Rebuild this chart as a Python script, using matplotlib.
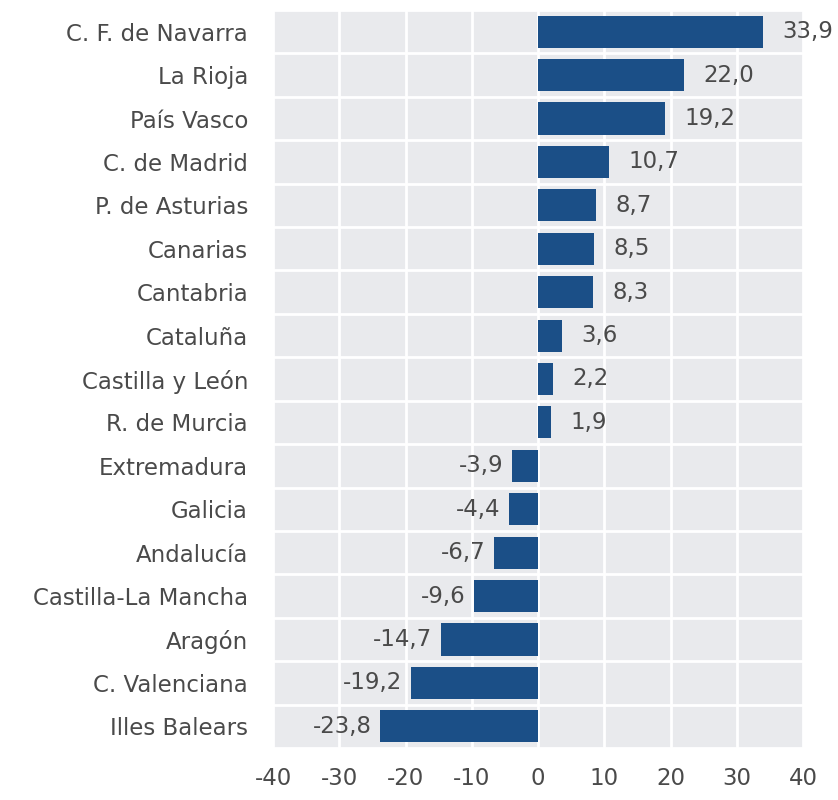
import matplotlib.pyplot as plt

regions = [
    "C. F. de Navarra", "La Rioja", "País Vasco", "C. de Madrid",
    "P. de Asturias", "Canarias", "Cantabria", "Cataluña",
    "Castilla y León", "R. de Murcia", "Extremadura", "Galicia",
    "Andalucía", "Castilla-La Mancha", "Aragón", "C. Valenciana",
    "Illes Balears",
]
values = [33.9, 22.0, 19.2, 10.7, 8.7, 8.5, 8.3, 3.6, 2.2, 1.9,
          -3.9, -4.4, -6.7, -9.6, -14.7, -19.2, -23.8]
xticks = [-40, -30, -20, -10, 0, 10, 20, 30, 40]

bar_color = "#1b4f87"
text_color = "#4a4a4a"
fsize = 16.5

fig = plt.figure(figsize=(8.38, 8.0), dpi=100)
ax = fig.add_axes([273 / 838, 1 - 748 / 800, 530 / 838, 738 / 800])
ax.set_facecolor("#e9eaed")

n = len(regions)
ypos = list(range(n))[::-1]
ax.barh(ypos, values, height=0.74, color=bar_color, zorder=3)

# white separators between rows and at every x tick
for b in range(n + 1):
    ax.axhline(b - 0.5, color="white", lw=2.0, zorder=2)
for t in xticks:
    ax.axvline(t, color="white", lw=2.0, zorder=2)

for y, v in zip(ypos, values):
    label = f"{v:.1f}".replace(".", ",")
    if v >= 0:
        ax.annotate(label, (v, y), xytext=(14, 0), textcoords="offset points",
                    ha="left", va="center", fontsize=fsize, color=text_color, zorder=4)
    else:
        ax.annotate(label, (v, y), xytext=(-6, 0), textcoords="offset points",
                    ha="right", va="center", fontsize=fsize, color=text_color, zorder=4)

ax.set_xlim(-40, 40)
ax.set_ylim(-0.5, n - 0.5)
ax.set_xticks(xticks)
ax.set_xticklabels([str(t) for t in xticks])
ax.set_yticks(ypos)
ax.set_yticklabels(regions)
ax.tick_params(axis="both", length=0, labelsize=fsize, labelcolor=text_color)
ax.tick_params(axis="y", pad=18)
ax.tick_params(axis="x", pad=14)
for s in ax.spines.values():
    s.set_visible(False)

fig.savefig("out.png", dpi=100)
